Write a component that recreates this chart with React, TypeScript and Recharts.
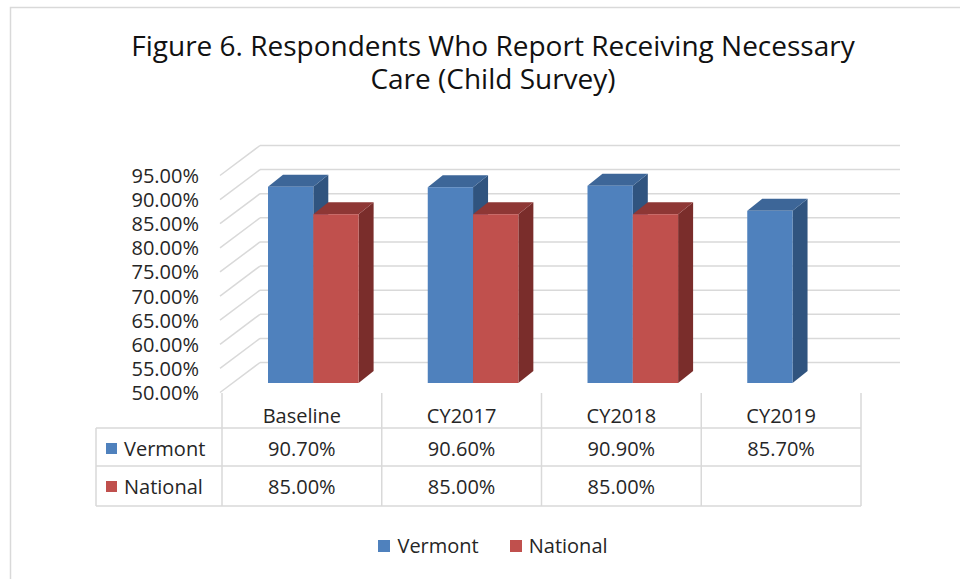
import { Bar, BarChart, CartesianGrid, Legend, XAxis, YAxis } from 'recharts';

const categories = ['Baseline', 'CY2017', 'CY2018', 'CY2019'];
const vermont = [90.7, 90.6, 90.9, 85.7];
const national: (number | null)[] = [85.0, 85.0, 85.0, null];
const yTicks = [50, 55, 60, 65, 70, 75, 80, 85, 90, 95];

const seriesNames = ['Vermont', 'National'];
const FONT = '"Open Sans", sans-serif';
const TEXT = '#262626';
const LINE = '#D9D9D9';

const palette = {
  Vermont: { front: '#4F81BD', top: '#3D6698', side: '#30547F' },
  National: { front: '#C0504D', top: '#8E3735', side: '#7A2D2B' },
};

const chartData = categories.map((name, i) => ({
  name,
  Vermont: vermont[i],
  National: national[i],
}));

const fmt = (v: number | null) => (v == null ? '' : `${v.toFixed(2)}%`);

// depth of each bar
const BAR_DX = 15;
const BAR_DY = -12;

function bar3d(name: 'Vermont' | 'National') {
  return (props: any) => {
    const { x, y, width, height } = props;
    if (height == null || isNaN(height) || height <= 0) return <g />;
    const c = palette[name];
    const r = x + width;
    const b = y + height;
    return (
      <g>
        <polygon
          points={`${r},${y} ${r + BAR_DX},${y + BAR_DY} ${r + BAR_DX},${b + BAR_DY} ${r},${b}`}
          fill={c.side}
        />
        <polygon
          points={`${x},${y} ${x + BAR_DX},${y + BAR_DY} ${r + BAR_DX},${y + BAR_DY} ${r},${y}`}
          fill={c.top}
        />
        <rect x={x} y={y} width={width} height={height} fill={c.front} />
      </g>
    );
  };
}

// back wall line + side wall diagonal for each y tick
function wallLine(props: any) {
  const y = props.y1;
  return (
    <g key={props.key ?? `w-${props.index}`}>
      <line x1={220} y1={y + 9.5} x2={260} y2={y - 20.5} stroke={LINE} strokeWidth={1.5} />
      <line x1={260} y1={y - 20.5} x2={900} y2={y - 20.5} stroke={LINE} strokeWidth={1.5} />
    </g>
  );
}

function YTick(props: any) {
  const { y, payload } = props;
  return (
    <text x={199} y={y + 17} textAnchor="end" fontFamily={FONT} fontSize={20} fill={TEXT}>
      {fmt(payload.value)}
    </text>
  );
}

const COL_W = 159.75;
const ROW_TOP = 393;
const ROW1 = 428;
const ROW2 = 466;
const ROW3 = 506;

function XTick(props: any) {
  const { x, index } = props;
  const cx = x - 11;
  const left = cx - COL_W / 2;
  const right = cx + COL_W / 2;
  const last = index === categories.length - 1;
  return (
    <g>
      {index === 0 && (
        <g>
          <line x1={96} y1={ROW1} x2={96} y2={ROW3} stroke={LINE} strokeWidth={1.5} />
          {[ROW1, ROW2, ROW3].map((ry) => (
            <line key={ry} x1={96} y1={ry} x2={left + COL_W * categories.length} y2={ry} stroke={LINE} strokeWidth={1.5} />
          ))}
          {seriesNames.map((s, k) => (
            <g key={s}>
              <rect x={106} y={k === 0 ? 443 : 481} width={11} height={11} fill={palette[s as 'Vermont'].front} />
              <text x={124} y={k === 0 ? 456 : 493.5} fontFamily={FONT} fontSize={20} fill={TEXT}>
                {s}
              </text>
            </g>
          ))}
        </g>
      )}
      <line x1={left} y1={ROW_TOP} x2={left} y2={ROW3} stroke={LINE} strokeWidth={1.5} />
      {last && <line x1={right} y1={ROW_TOP} x2={right} y2={ROW3} stroke={LINE} strokeWidth={1.5} />}
      <text x={cx} y={423} textAnchor="middle" fontFamily={FONT} fontSize={20} fill={TEXT}>
        {categories[index]}
      </text>
      <text x={cx} y={456} textAnchor="middle" fontFamily={FONT} fontSize={20} fill={TEXT}>
        {fmt(vermont[index])}
      </text>
      <text x={cx} y={493.5} textAnchor="middle" fontFamily={FONT} fontSize={20} fill={TEXT}>
        {fmt(national[index])}
      </text>
    </g>
  );
}

function LegendContent() {
  return (
    <div
      style={{
        display: 'flex',
        justifyContent: 'center',
        alignItems: 'center',
        fontFamily: FONT,
        fontSize: 20,
        lineHeight: '28px',
        color: TEXT,
        paddingLeft: 26,
      }}
    >
      {seriesNames.map((s, k) => (
        <span key={s} style={{ display: 'flex', alignItems: 'center', marginLeft: k === 0 ? 0 : 31 }}>
          <span
            style={{
              display: 'inline-block',
              width: 12,
              height: 12,
              background: palette[s as 'Vermont'].front,
              marginRight: 7,
            }}
          />
          {s}
        </span>
      ))}
    </div>
  );
}

export default function App() {
  return (
    <div style={{ position: 'absolute', left: 0, top: 0, width: 960, height: 579, background: '#fff' }}>
      <svg width={960} height={579} style={{ position: 'absolute', left: 0, top: 0 }}>
        <rect x={10.5} y={7.5} width={1000} height={1000} fill="#fff" stroke={LINE} strokeWidth={1.5} />
        <text x={493} y={56} textAnchor="middle" fontFamily={FONT} fontSize={28} fill="#111">
          Figure 6. Respondents Who Report Receiving Necessary
        </text>
        <text x={493} y={89} textAnchor="middle" fontFamily={FONT} fontSize={28} fill="#111">
          Care (Child Survey)
        </text>
      </svg>
      <div style={{ position: 'absolute', left: 0, top: 0 }}>
        <BarChart
          width={960}
          height={579}
          data={chartData}
          margin={{ top: 166, right: 88, left: 100, bottom: 76 }}
          barGap={0}
          barSize={45.3}
        >
          <CartesianGrid horizontal={wallLine} vertical={false} />
          <YAxis
            type="number"
            domain={[50, 95]}
            ticks={yTicks}
            interval={0}
            width={133}
            axisLine={false}
            tickLine={false}
            tick={YTick}
            allowDataOverflow
          />
          <XAxis dataKey="name" height={120} axisLine={false} tickLine={false} interval={0} tick={XTick} />
          <Bar dataKey="Vermont" isAnimationActive={false} shape={bar3d('Vermont')} />
          <Bar dataKey="National" isAnimationActive={false} shape={bar3d('National')} />
          <Legend
            layout="horizontal"
            align="center"
            verticalAlign="middle"
            content={LegendContent}
            wrapperStyle={{ position: 'absolute', left: 0, top: 532, width: 960, height: 28 }}
          />
        </BarChart>
      </div>
    </div>
  );
}
